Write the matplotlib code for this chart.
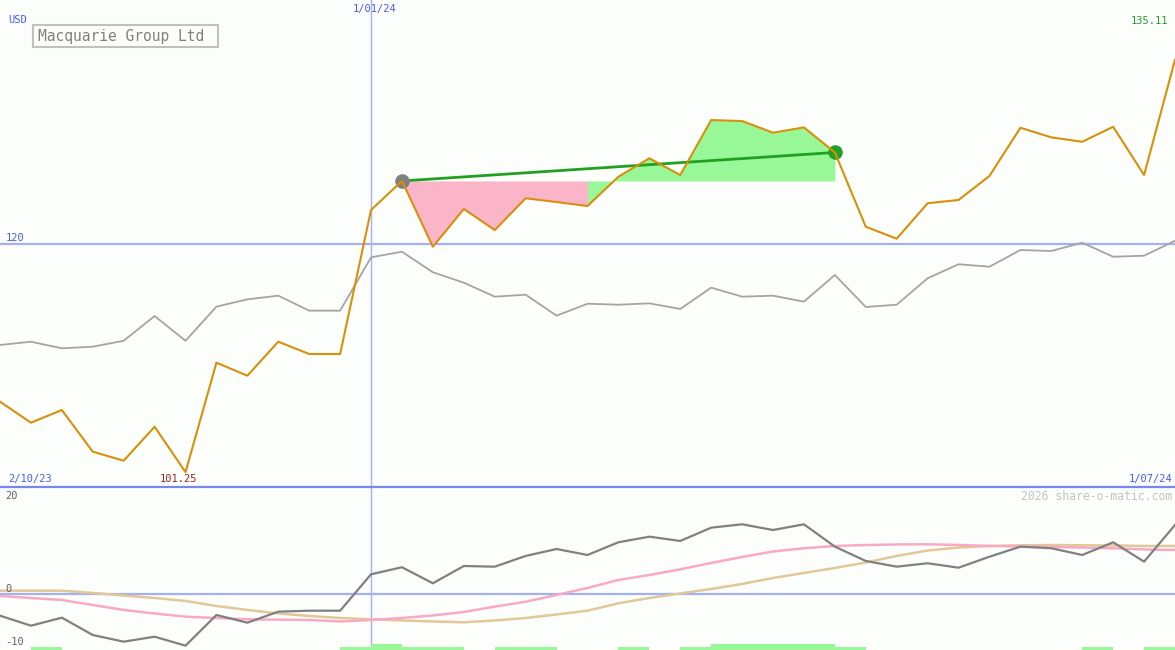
import matplotlib
matplotlib.use("Agg")
import matplotlib.pyplot as plt
import numpy as np
from matplotlib.patches import Rectangle

# ---------------- data ----------------
title = "Macquarie Group Ltd"
currency = "USD"
start_label = "2/10/23"
end_label = "1/07/24"
marker_label = "1/01/24"
marker_index = 12
ref_level = 120
min_label = "101.25"
last_label = "135.11"
watermark = "2026 share-o-matic.com"

price = [107.04, 105.31, 106.35, 102.93, 102.19, 104.98, 101.25, 110.24, 109.17, 111.96,
         110.95, 110.95, 122.78, 125.16, 119.76, 122.86, 121.13, 123.74, 123.43, 123.10,
         125.51, 127.02, 125.65, 130.16, 130.08, 129.12, 129.56, 127.50, 121.40, 120.42,
         123.33, 123.60, 125.57, 129.53, 128.74, 128.38, 129.61, 125.65, 135.11]

index_rel = [111.69, 111.96, 111.42, 111.55, 112.04, 114.07, 112.04, 114.84, 115.44, 115.74,
             114.51, 114.51, 118.89, 119.35, 117.66, 116.81, 115.66, 115.82, 114.10, 115.08,
             115.00, 115.11, 114.65, 116.40, 115.66, 115.74, 115.25, 117.44, 114.81, 115.00,
             117.17, 118.32, 118.12, 119.49, 119.41, 120.09, 118.94, 119.02, 120.25]

momentum = [-4.35, -6.41, -4.76, -8.32, -9.69, -8.67, -10.51, -4.21, -5.79, -3.53,
            -3.33, -3.33, 4.15, 5.59, 2.30, 5.85, 5.71, 7.91, 9.34, 8.11,
            10.72, 11.87, 10.99, 13.72, 14.41, 13.24, 14.41, 9.82, 6.88, 5.71,
            6.41, 5.50, 7.76, 9.82, 9.49, 8.11, 10.72, 6.74, 14.27]

avg_pink = [-0.31, -0.72, -1.13, -2.16, -3.18, -3.90, -4.56, -4.83, -5.09, -5.17,
            -5.24, -5.54, -5.24, -4.83, -4.31, -3.59, -2.50, -1.48, -0.10, 1.33,
            2.98, 4.00, 5.17, 6.47, 7.70, 8.83, 9.49, 9.96, 10.16, 10.27,
            10.31, 10.16, 9.96, 9.86, 9.75, 9.65, 9.49, 9.24, 9.14]

avg_tan = [0.78, 0.78, 0.78, 0.31, -0.21, -0.72, -1.33, -2.36, -3.18, -3.90,
           -4.41, -4.83, -5.09, -5.34, -5.54, -5.71, -5.34, -4.83, -4.11, -3.33,
           -1.81, -0.72, 0.21, 1.13, 2.16, 3.39, 4.41, 5.44, 6.57, 7.91,
           9.03, 9.65, 9.96, 10.10, 10.16, 10.10, 10.06, 9.96, 9.96]

# signal bar level for each interval [i, i+1]
signal = [0, 1, 0, 0, 0, 0, 0, 0, 0, 0,
          0, 1, 2, 1, 1, 0, 1, 1, 0, 0,
          1, 0, 1, 2, 2, 2, 2, 1, 0, 0,
          0, 0, 0, 0, 0, 1, 0, 1]

trade_start = 13
trade_switch = 19
trade_end = 27

# ---------------- styling ----------------
W, H = 1175, 650
BG = "#fcfefc"
ORANGE = "#d8900a"
GREY = "#a4a4a4"
DARK = "#808080"
PINK_LINE = "#f8aac4"
TAN = "#e2c898"
PINK_FILL = "#fab5c9"
GREEN_FILL = "#98f898"
GREEN = "#22a022"
BLUE_LINE = "#a4b0f4"
BLUE_BORDER = "#7888ea"
BLUE_TEXT = "#4a5af0"
MONO = "DejaVu Sans Mono"

fig = plt.figure(figsize=(W / 100, H / 100), dpi=100, facecolor=BG)
split = (H - 487) / H
ax = fig.add_axes([0, split, 1, 1 - split])
ax2 = fig.add_axes([0, 0, 1, split])
for a in (ax, ax2):
    a.set_facecolor(BG)
    a.set_axis_off()

x = np.arange(len(price))
n = len(price) - 1
ax.set_xlim(0, n)
ax2.set_xlim(0, n)
ax.set_ylim(100.03, 140.02)
ax2.set_ylim(-11.4, 22.07)

# main panel
ax.axhline(ref_level, color=BLUE_LINE, lw=1.6, zorder=1)
ax.axvline(marker_index, color=BLUE_LINE, lw=1.0, zorder=1)
ax2.axvline(marker_index, color=BLUE_LINE, lw=1.0, zorder=1)

base = price[trade_start]
xs = x[trade_start:trade_switch + 1]
ax.fill_between(xs, base, price[trade_start:trade_switch + 1], color=PINK_FILL, lw=0, zorder=2)
xg = x[trade_switch:trade_end + 1]
ax.fill_between(xg, base, price[trade_switch:trade_end + 1], color=GREEN_FILL, lw=0, zorder=2)

ax.plot(x, index_rel, color=GREY, lw=1.3, zorder=3)
ax.plot([trade_start, trade_end], [price[trade_start], price[trade_end]], color=GREEN, lw=2.0, zorder=4)
ax.scatter([trade_start], [price[trade_start]], s=110, color="#808080", zorder=4, linewidths=0)
ax.scatter([trade_end], [price[trade_end]], s=110, color=GREEN, zorder=4, linewidths=0)
ax.plot(x, price, color=ORANGE, lw=1.5, zorder=5)

# lower panel
ax2.axhline(0, color=BLUE_LINE, lw=1.6, zorder=1)
ax2.plot(x, avg_tan, color=TAN, lw=1.8, zorder=2)
ax2.plot(x, avg_pink, color=PINK_LINE, lw=1.8, zorder=3)
ax2.plot(x, momentum, color=DARK, lw=1.6, zorder=4)
unit = 0.62
for i, lev in enumerate(signal):
    if lev > 0:
        ax2.add_patch(Rectangle((i, -11.4), 1, unit * lev, color=GREEN_FILL, lw=0, zorder=6))

# border between panels
fig.add_artist(plt.Line2D([0, 1], [split, split], transform=fig.transFigure,
                          color=BLUE_BORDER, lw=1.6))

def px(xp, yp):
    return xp / W, 1 - yp / H

# texts
fig.text(*px(8, 20), currency, color=BLUE_TEXT, family=MONO, fontsize=7.5, va="center", ha="left")
fig.text(*px(375, 9), marker_label, color=BLUE_TEXT, family=MONO, fontsize=7.5, va="center", ha="center")
fig.text(*px(1168, 21), last_label, color=GREEN, family=MONO, fontsize=7.5, va="center", ha="right")
fig.text(*px(6, 238), str(ref_level), color=BLUE_TEXT, family=MONO, fontsize=7.5, va="center", ha="left")
fig.text(*px(8, 479), start_label, color=BLUE_TEXT, family=MONO, fontsize=7.5, va="center", ha="left")
fig.text(*px(1172, 479), end_label, color=BLUE_TEXT, family=MONO, fontsize=7.5, va="center", ha="right")
fig.text(*px(178.5, 479), min_label, color="#a02020", family=MONO, fontsize=7.5, va="center", ha="center")
fig.text(*px(1172, 496), watermark, color="#c4c4c4", family=MONO, fontsize=8.3, va="center", ha="right")
fig.text(*px(5, 496), "20", color="#606060", family=MONO, fontsize=7.5, va="center", ha="left")
fig.text(*px(5, 589), "0", color="#606060", family=MONO, fontsize=7.5, va="center", ha="left")
fig.text(*px(5, 642), "-10", color="#606060", family=MONO, fontsize=7.5, va="center", ha="left")

# title box
x0, y0 = px(33, 47)
x1, y1 = px(218, 25)
fig.add_artist(Rectangle((x0, y0), x1 - x0, y1 - y0, transform=fig.transFigure,
                         facecolor=BG, edgecolor="#c0c0c0", lw=1.5, zorder=10))
fig.text(*px(38, 36), title, color="#808080", family=MONO, fontsize=10.5, va="center", ha="left",
         zorder=11)

fig.savefig("out.png", dpi=100, facecolor=BG)
